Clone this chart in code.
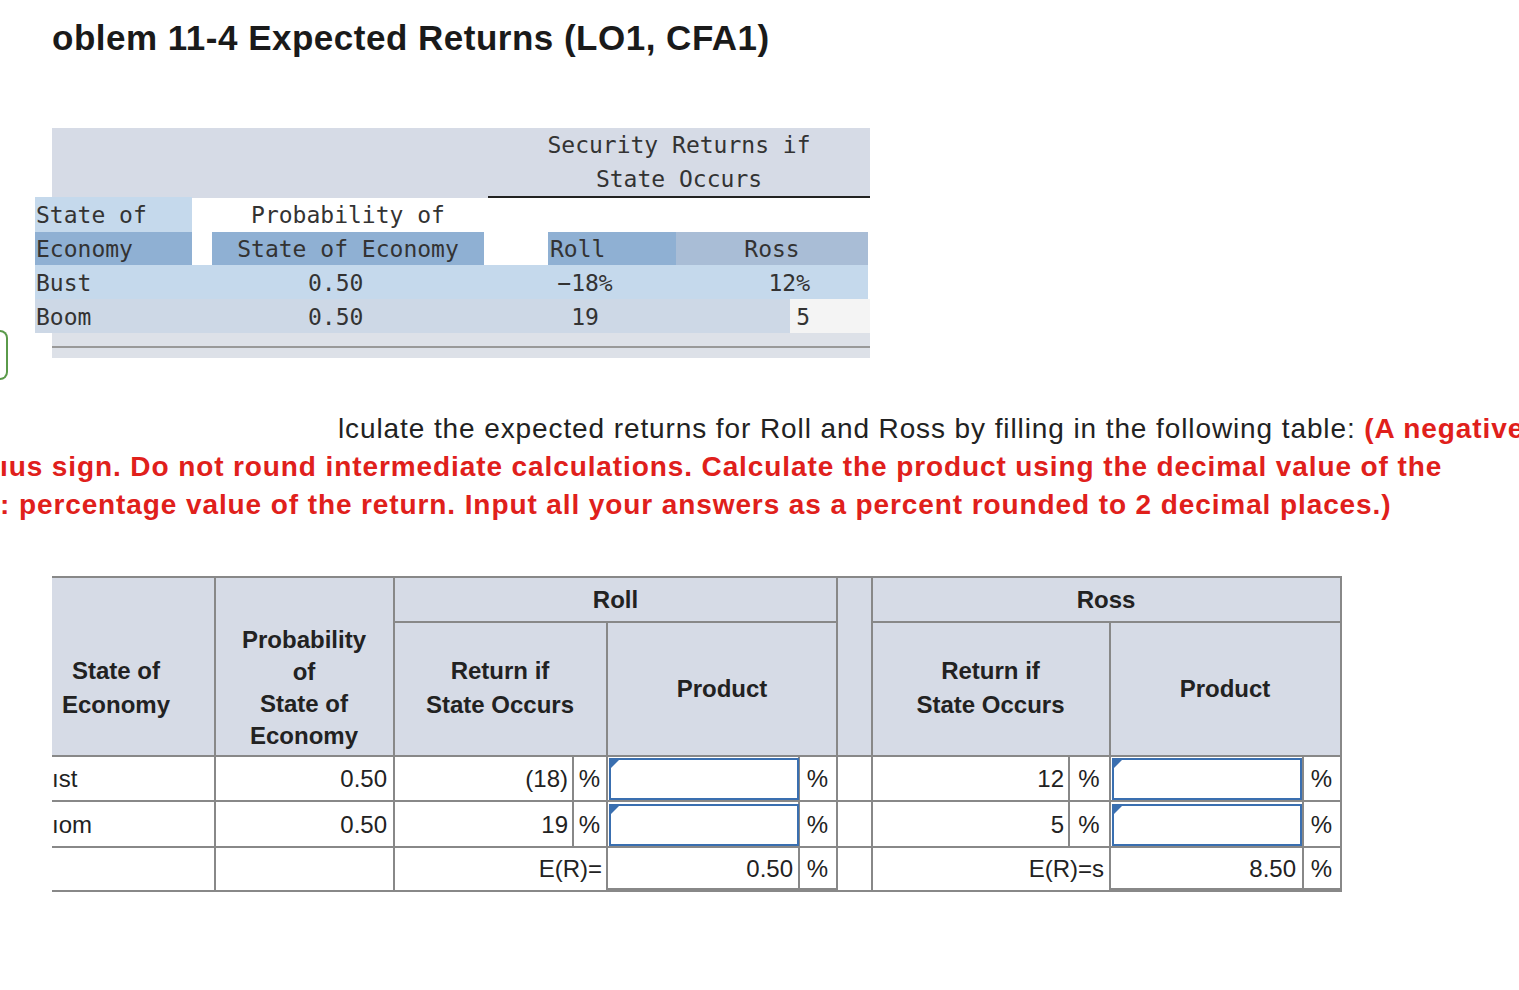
<!DOCTYPE html><html><head><meta charset="utf-8">
<script src="https://cdn.jsdelivr.net/npm/chart.js@4"></script>
<style>
body{margin:0;background:#fff;width:1519px;height:990px;overflow:hidden;position:relative;font-family:"Liberation Sans",Arial,sans-serif;color:#222}
.a{position:absolute;box-sizing:border-box}
.m{font-family:"DejaVu Sans Mono",monospace;font-size:23px;color:#333}
.t{font-size:24px}
.b{font-weight:bold}
.c{text-align:center}.r{text-align:right}
.p{font-size:28px;line-height:38px;white-space:nowrap;letter-spacing:0.9px}
</style></head><body>
<div id="root"></div>
<script>
const title="oblem 11-4 Expected Returns (LO1, CFA1)";
const states=["Bust","Boom"];
const probs=["0.50","0.50"];
const rollReturns=["\u221218%","19"];
const rossReturns=["12%","5"];
const rollInput=["(18)","19"];
const rossInput=["12","5"];
const results=["0.50","8.50"];
const R=document.getElementById('root');
function d(x,y,w,h,cls,txt,st){const e=document.createElement('div');e.className='a '+(cls||'');Object.assign(e.style,{left:x+'px',top:y+'px',width:w+'px',height:h+'px'},st||{});if(txt!=null)e.innerHTML=txt;R.appendChild(e);return e;}
d(52,18,1000,50,'b',title,{fontSize:'35px',color:'#1a1a1a',letterSpacing:'0.5px'});
// top table
d(52,128,818,70,'',null,{background:'#d6dbe6'});
d(488,196,382,2,'',null,{background:'#222'});
d(488,128,382,70,'m c','Security Returns if<br>State Occurs',{lineHeight:'34px'});
d(35,197,157,35,'',null,{background:'#c5d9ec'});
d(35,232,157,33,'',null,{background:'#8fb0d3'});
d(212,232,272,33,'',null,{background:'#8fb0d3'});
d(548,232,128,33,'',null,{background:'#8fb0d3'});
d(676,232,192,33,'',null,{background:'#a9bdd6'});
d(35,265,833,34,'',null,{background:'#c5d9ec'});
d(35,299,755,34,'',null,{background:'#cdd8e6'});
d(790,299,80,34,'',null,{background:'#f4f4f4'});
d(52,333,818,25,'',null,{background:'#dde1e8'});
d(52,346,818,2,'',null,{background:'#999'});
d(36,198,160,34,'m','State of',{lineHeight:'34px'});
d(212,198,272,34,'m c','Probability of',{lineHeight:'34px'});
d(36,232,160,34,'m','Economy',{lineHeight:'34px'});
d(212,232,272,34,'m c','State of Economy',{lineHeight:'34px'});
d(550,232,120,34,'m','Roll',{lineHeight:'34px'});
d(676,232,192,34,'m c','Ross',{lineHeight:'34px'});
states.forEach((s,i)=>{const y=266+i*34;
 d(36,y,160,34,'m',s,{lineHeight:'34px'});
 d(212,y,258,34,'m',probs[i],{lineHeight:'34px',paddingLeft:'96px'});
 d(540,y,90,34,'m c',rollReturns[i],{lineHeight:'34px'});
 d(700,y,110,34,'m r',rossReturns[i],{lineHeight:'34px'});
});
// paragraph
d(338,410,1181,40,'p','lculate the expected returns for Roll and Ross by filling in the following table: <span style="color:#e0201b;font-weight:bold">(A negative value should be</span>',{overflow:'hidden'});
d(0,448,1519,40,'p b',"ıus sign. Do not round intermediate calculations. Calculate the product using the decimal value of the",{color:'#e0201b',overflow:'hidden'});
d(0,486,1519,40,'p b',": percentage value of the return. Input all your answers as a percent rounded to 2 decimal places.)",{color:'#e0201b',overflow:'hidden'});
// bottom table
d(52,577,1288,179,'',null,{background:'#d6dbe6'});
d(837,756,35,135,'',null,{background:'#fff'});
const H=(x,y,w)=>d(x,y,w,2,'',null,{background:'#888'});
const V=(x,y,h)=>d(x,y,2,h,'',null,{background:'#888'});
H(52,576,1290);H(394,621,443);H(872,621,470);
H(52,755,1290);H(52,800,1290);H(52,846,1290);H(52,890,1290);
V(214,577,314);V(393,577,314);V(836,577,314);V(871,577,314);V(1340,577,314);
V(606,622,269);V(1109,622,269);
V(572,756,90);V(798,756,135);V(1068,756,90);V(1302,756,135);
H(607,888,230);H(1110,888,230);
d(394,577,443,45,'t b c','Roll',{lineHeight:'45px'});
d(872,577,468,45,'t b c','Ross',{lineHeight:'45px'});
d(52,622,128,134,'t b c','State of<br>Economy',{paddingTop:'32px',lineHeight:'34px'});
d(215,622,178,134,'t b c','Probability<br>of<br>State of<br>Economy',{lineHeight:'32px',paddingTop:'2px'});
d(394,622,212,134,'t b c','Return if<br>State Occurs',{paddingTop:'32px',lineHeight:'34px'});
d(607,622,230,134,'t b c','Product',{lineHeight:'134px'});
d(872,622,237,134,'t b c','Return if<br>State Occurs',{paddingTop:'32px',lineHeight:'34px'});
d(1110,622,230,134,'t b c','Product',{lineHeight:'134px'});
const short=["ıst","ıom"];
states.forEach((s,i)=>{const y=756+i*46;
 d(52,y,160,46,'t',short[i],{lineHeight:'46px'});
 d(215,y,172,46,'t r',probs[i],{lineHeight:'46px'});
 d(394,y,174,46,'t r',rollInput[i],{lineHeight:'46px'});
 d(573,y,33,46,'t c','%',{lineHeight:'46px'});
 d(609,y+2,190,42,'',null,{border:'2px solid #3a6fb0'});
 d(609,y+2,0,0,'',null,{borderTop:'12px solid #3a6fb0',borderRight:'12px solid transparent'});
 d(799,y,37,46,'t c','%',{lineHeight:'46px'});
 d(872,y,192,46,'t r',rossInput[i],{lineHeight:'46px'});
 d(1069,y,40,46,'t c','%',{lineHeight:'46px'});
 d(1112,y+2,190,42,'',null,{border:'2px solid #3a6fb0'});
 d(1112,y+2,0,0,'',null,{borderTop:'12px solid #3a6fb0',borderRight:'12px solid transparent'});
 d(1303,y,37,46,'t c','%',{lineHeight:'46px'});
});
d(394,847,208,44,'t r','E(R)=',{lineHeight:'44px'});
d(607,847,186,44,'t r',results[0],{lineHeight:'44px'});
d(799,847,37,44,'t c','%',{lineHeight:'44px'});
d(872,847,232,44,'t r','E(R)=s',{lineHeight:'44px'});
d(1110,847,186,44,'t r',results[1],{lineHeight:'44px'});
d(1303,847,37,44,'t c','%',{lineHeight:'44px'});
d(0,330,8,50,'',null,{border:'2px solid #5a9a4a',borderLeft:'none',borderRadius:'0 20px 20px 0'});
</script></body></html>
